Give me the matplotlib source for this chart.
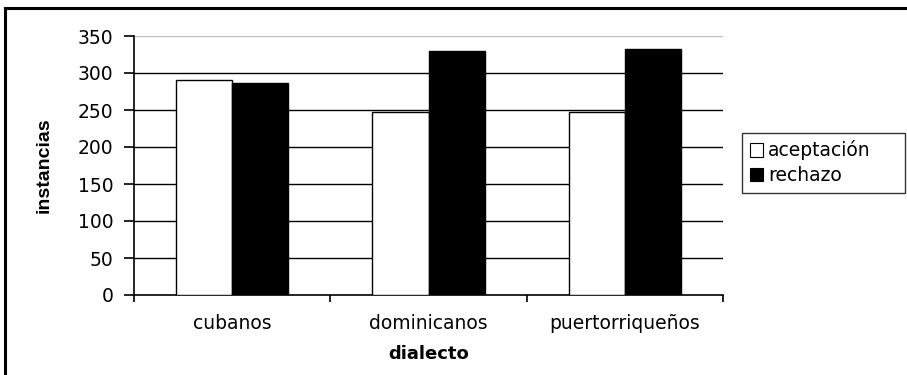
import matplotlib
matplotlib.use("Agg")
import matplotlib.pyplot as plt
from matplotlib.patches import Rectangle, Patch
from matplotlib import font_manager
import numpy as np

# data
categories = ["cubanos", "dominicanos", "puertorriqueños"]
aceptacion = [290, 247, 247]
rechazo = [286, 330, 332]
yticks = [0, 50, 100, 150, 200, 250, 300, 350]

plt.rcParams["font.family"] = ["DejaVu Sans"]

names = {f.name for f in font_manager.fontManager.ttflist}
narrow = "Liberation Sans Narrow" if "Liberation Sans Narrow" in names else "Liberation Sans"

fig = plt.figure(figsize=(9.07, 3.75), dpi=100)
ax = fig.add_axes([134 / 907, 80 / 375, 589 / 907, 259 / 375])

x = np.arange(len(categories))
w = 1 / 3.5
ax.bar(x - w / 2, aceptacion, w, color="white", edgecolor="black", linewidth=1.0, zorder=3)
ax.bar(x + w / 2, rechazo, w, color="black", edgecolor="black", linewidth=1.0, zorder=3)

ax.set_xlim(-0.5, len(categories) - 0.5)
ax.set_ylim(0, 350)

# horizontal gridlines, top one grey
for v in yticks[1:]:
    ax.axhline(v, color="#c0c0c0" if v == 350 else "black", linewidth=1.0, zorder=1)

ax.set_yticks(yticks)
ax.set_yticklabels([str(v) for v in yticks], fontsize=13.5)
ax.tick_params(axis="y", direction="out", length=7, width=1.2, pad=8)

ax.set_xticks(x)
ax.set_xticklabels(categories, fontsize=13.5)
ax.tick_params(axis="x", which="major", length=0, pad=14)
ax.set_xticks(np.arange(len(categories) + 1) - 0.5, minor=True)
ax.tick_params(axis="x", which="minor", direction="out", length=5, width=1.2)

for s in ["top", "right"]:
    ax.spines[s].set_visible(False)
for s in ["left", "bottom"]:
    ax.spines[s].set_linewidth(1.2)

ax.set_ylabel("instancias", fontsize=14, fontweight="bold", family=narrow)
ax.yaxis.set_label_coords(-0.139, 0.5)
ax.set_xlabel("dialecto", fontsize=13, fontweight="bold", labelpad=8)

handles = [Patch(facecolor="white", edgecolor="black", linewidth=0.8),
           Patch(facecolor="black", edgecolor="black", linewidth=0.8)]
leg = fig.legend(handles, ["aceptación", "rechazo"], loc="upper left",
                 bbox_to_anchor=(742 / 907, 1 - 193 / 375, 163 / 907, 60 / 375),
                 mode="expand", fontsize=13.5,
                 frameon=True, fancybox=False, handlelength=0.7, handleheight=0.7,
                 handletextpad=0.3, borderpad=0.4, labelspacing=0.3,
                 borderaxespad=0)
leg.get_frame().set_edgecolor("black")
leg.get_frame().set_linewidth(1.0)

# outer chart border (right and bottom edges are outside the image)
fig.patches.append(Rectangle((5 / 907, -0.1), 1.2, 1 - 8 / 375 + 0.1,
                             transform=fig.transFigure, fill=False,
                             edgecolor="black", linewidth=2.2))

fig.savefig("out.png", dpi=100)
